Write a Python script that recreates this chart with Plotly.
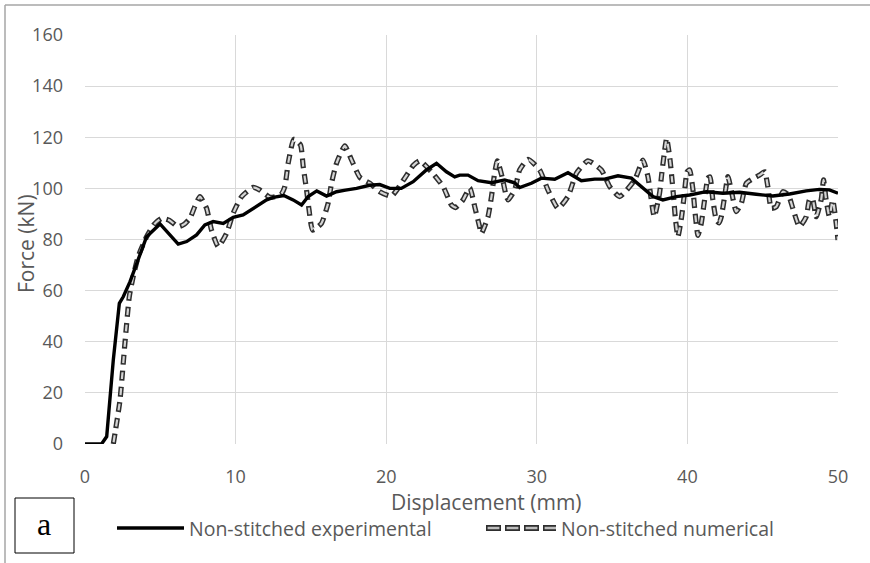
import plotly.graph_objects as go

# ---------------- data ----------------
exp_x = [0, 1.1, 1.44, 1.88, 2.28, 2.54, 2.99, 3.65, 4.09, 4.98, 5.53, 6.19, 6.75, 7.41, 7.96,
         8.51, 9.18, 9.84, 10.5, 11.17, 12.06, 12.5, 13.2, 13.82, 14.38, 14.82, 15.39, 16.04,
         16.7, 17.3, 18.03, 18.9, 19.57, 20.24, 21.0, 21.79, 22.67, 23.34, 24.0, 24.55, 24.88,
         25.43, 26.1, 26.99, 27.87, 28.53, 28.86, 29.64, 30.3, 31.19, 32.07, 32.96, 33.84, 34.5,
         35.39, 36.28, 36.83, 37.16, 37.71, 38.37, 39.26, 40.15, 41.25, 42.36, 43.46, 44.57,
         45.67, 46.78, 47.89, 48.77, 49.43, 50]
exp_y = [0, 0, 2.9, 32.9, 55, 57.6, 63.5, 74.6, 81.1, 86.1, 82.4, 78.2, 79.2, 81.8, 85.7,
         87, 86.3, 88.7, 89.6, 92.2, 95.5, 96.5, 97.2, 95.5, 93.5, 96.8, 99, 97,
         98.7, 99.3, 100, 101.2, 101.5, 100, 100, 102.6, 107.2, 109.8, 106.5, 104.5, 105.2,
         105.2, 103, 102.2, 103.3, 102.2, 100.3, 102, 104, 103.6, 106.1, 103, 103.6, 103.6,
         104.9, 104, 101.3, 99.6, 96.8, 95.5, 96.8, 97.4, 98.7, 98.1, 98.5, 97.7,
         97, 97.8, 99, 99.6, 99.4, 98.1]

num_x = [1.88, 2.32, 2.65, 2.94, 3.2, 3.54, 4.09, 4.6, 5.09, 5.6, 6.19, 6.6, 6.97, 7.3, 7.63,
         8.07, 8.4, 8.85, 9.4, 9.84, 10.4, 11.17, 11.6, 12.3, 13.0, 13.27, 13.49, 13.87, 14.31,
         14.49, 14.71, 14.88, 15.11, 15.7, 16.14, 16.37, 16.7, 17.25, 17.7, 18.25, 18.92, 19.57,
         20.35, 21.23, 21.8, 22.23, 23.0, 23.78, 24.33, 24.6, 25.1, 25.55, 25.88, 26.2, 26.32,
         26.76, 26.99, 27.2, 27.38, 27.69, 27.98, 28.1, 28.53, 28.86, 29.42, 30.19, 30.74, 31.41,
         32.07, 32.63, 33.4, 34.29, 34.84, 35.5, 36.5, 37.05, 37.38, 37.8, 38.15, 38.3, 38.45,
         38.62, 38.84, 38.97, 39.1, 39.2, 39.37, 39.6, 39.78, 39.98, 40.15, 40.37, 40.5, 40.7,
         40.92, 41.14, 41.36, 41.5, 41.69, 41.92, 42.1, 42.25, 42.47, 42.69, 42.91, 43.24, 43.58,
         43.91, 44.4, 44.79, 45.13, 45.34, 45.57, 45.9, 46.34, 46.7, 47.0, 47.44, 47.89, 48.1,
         48.3, 48.55, 48.88, 49.04, 49.2, 49.43, 49.65, 49.88, 50]
num_y = [0, 17, 39.4, 57.6, 65.5, 73.5, 81.1, 86, 88.3, 87.5, 85, 86, 88.3, 93, 96.8,
         92.2, 83.7, 77.2, 82.4, 90.3, 96.8, 100.4, 99.4, 96.5, 97.5, 100.7, 109.8, 119.2, 117,
         108.5, 99.4, 91.5, 83.7, 86.3, 94.1, 102, 109.8, 116.6, 111.1, 104.3, 102, 98.7,
         97, 104, 109, 110.8, 106.5, 100.7, 93.5, 92.5, 95.5, 100.2, 92.8, 85, 82.4,
         88.9, 96.8, 105.9, 110.8, 104.6, 96.8, 95.5, 99.4, 107.2, 111.4, 107.2, 99.4, 92.2,
         96.8, 105.9, 110.8, 107.2, 100.7, 96.8, 103.3, 111.1, 104.6, 88.9, 98.1, 105.9, 113,
         119.6, 111.5, 104, 95.5, 88.3, 81.1, 88.3, 96.8, 106.5, 107.2, 99.4, 91, 81.6,
         86.3, 95.5, 104, 104.5, 95.5, 87.6, 86.5, 88.9, 96.8, 104.6, 99.4, 90.9, 94.1,
         102, 104, 105.2, 106.5, 100.7, 92.2, 92.8, 98.7, 97.5, 92.2, 85, 88.9, 95.5,
         96, 88.9, 95.5, 103.3, 96, 88.9, 95.5, 86.3, 79.8]

x_ticks = [0, 10, 20, 30, 40, 50]
y_ticks = [0, 20, 40, 60, 80, 100, 120, 140, 160]
x_title = "Displacement (mm)"
y_title = "Force (kN)"
names = ["Non-stitched experimental", "Non-stitched numerical"]
panel_label = "a"

# ---------------- layout helpers (pixel -> paper) ----------------
W, H = 870, 563
L, R, T, B = 85, 32, 35, 119
PW, PH = W - L - R, H - T - B


def px(x):
    return (x - L) / PW


def py(y):
    return (H - B - y) / PH


TXT = "#595959"
FONT = "Open Sans"

fig = go.Figure()

OUT_DASH = "10px,6px"
IN_DASH = "0px,1.6px,6.8px,7.6px"

fig.add_trace(go.Scatter(x=num_x, y=num_y, mode="lines", name=names[1], showlegend=False,
                         line=dict(color="#2e2e2e", width=5.2, dash=OUT_DASH, shape="spline",
                                   smoothing=0.5)))
fig.add_trace(go.Scatter(x=num_x, y=num_y, mode="lines", showlegend=False, hoverinfo="skip",
                         line=dict(color="#d4d4d4", width=2.2, dash=IN_DASH, shape="spline",
                                   smoothing=0.5)))
fig.add_trace(go.Scatter(x=exp_x, y=exp_y, mode="lines", name=names[0], showlegend=False,
                         line=dict(color="#000000", width=3.4)))

shapes = []
annotations = []

# outer frame
shapes.append(dict(type="line", xref="paper", yref="paper", x0=px(5), x1=px(W + 5), y0=py(5), y1=py(5),
                   line=dict(color="#a6a6a6", width=1.5)))
shapes.append(dict(type="line", xref="paper", yref="paper", x0=px(5), x1=px(5), y0=py(5), y1=py(H + 5),
                   line=dict(color="#a6a6a6", width=1.5)))

# panel label box
shapes.append(dict(type="rect", xref="paper", yref="paper", x0=px(15), x1=px(74), y0=py(498), y1=py(553),
                   line=dict(color="#000000", width=1), fillcolor="#ffffff"))
annotations.append(dict(text=panel_label, xref="paper", yref="paper", x=px(44), y=py(524),
                        showarrow=False, xanchor="center", yanchor="middle",
                        font=dict(family="Liberation Serif", size=32, color="#000000")))

# axis titles
annotations.append(dict(text=x_title, xref="paper", yref="paper", x=px(486), y=py(502),
                        showarrow=False, xanchor="center", yanchor="middle",
                        font=dict(family=FONT, size=21, color=TXT)))
annotations.append(dict(text=y_title, xref="paper", yref="paper", x=px(26), y=py(244),
                        showarrow=False, xanchor="center", yanchor="middle", textangle=-90,
                        font=dict(family=FONT, size=21, color=TXT)))

# legend (manual)
LY = 528
shapes.append(dict(type="line", xref="paper", yref="paper", x0=px(117), x1=px(184), y0=py(LY), y1=py(LY),
                   line=dict(color="#000000", width=3.4)))
annotations.append(dict(text=names[0], xref="paper", yref="paper", x=px(187), y=py(LY),
                        showarrow=False, xanchor="left", yanchor="middle",
                        font=dict(family=FONT, size=19.5, color=TXT)))
shapes.append(dict(type="line", xref="paper", yref="paper", x0=px(486), x1=px(556), y0=py(LY), y1=py(LY),
                   line=dict(color="#2e2e2e", width=6, dash="15px,4px")))
shapes.append(dict(type="line", xref="paper", yref="paper", x0=px(486), x1=px(556), y0=py(LY), y1=py(LY),
                   line=dict(color="#bdbdbd", width=2.6, dash="0px,1.6px,11.8px,5.6px")))
annotations.append(dict(text=names[1], xref="paper", yref="paper", x=px(559), y=py(LY),
                        showarrow=False, xanchor="left", yanchor="middle",
                        font=dict(family=FONT, size=19.5, color=TXT)))

fig.update_layout(
    width=W, height=H,
    margin=dict(l=L, r=R, t=T, b=B, pad=0),
    paper_bgcolor="#ffffff", plot_bgcolor="#ffffff",
    showlegend=False,
    font=dict(family=FONT, size=18, color=TXT),
    shapes=shapes, annotations=annotations,
)
fig.update_xaxes(range=[0, 50], tickvals=x_ticks, ticktext=[str(v) for v in x_ticks],
                 showgrid=True, gridcolor="#d9d9d9", gridwidth=1.4, zeroline=False, showline=False,
                 ticks="", ticklabelstandoff=20, tickfont=dict(family=FONT, size=18, color=TXT),
                 fixedrange=True)
fig.update_yaxes(range=[0, 160], tickvals=y_ticks, ticktext=[str(v) for v in y_ticks],
                 showgrid=True, gridcolor="#d9d9d9", gridwidth=1.4, zeroline=False, showline=False,
                 ticks="", ticklabelstandoff=21, tickfont=dict(family=FONT, size=18, color=TXT),
                 fixedrange=True)

fig.write_html("out.html")
